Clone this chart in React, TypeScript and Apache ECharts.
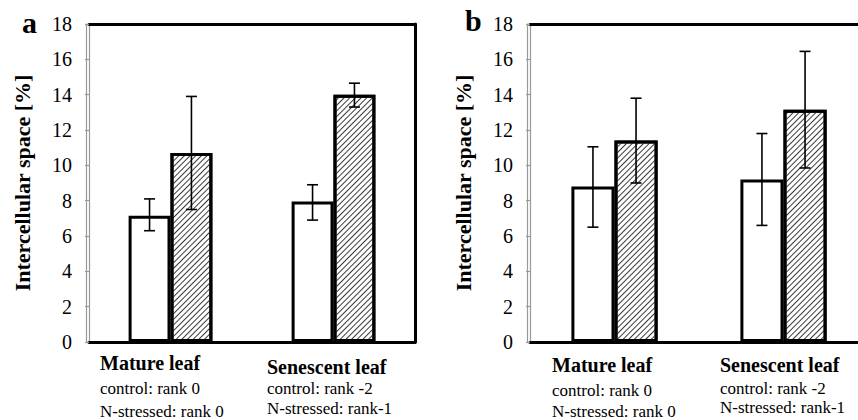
import React, { useEffect, useRef } from "react";
import * as echarts from "echarts";

const categories = ["Mature leaf", "Senescent leaf"];
const controlRanks = ["control: rank 0", "control: rank -2"];
const stressedRanks = ["N-stressed: rank 0", "N-stressed: rank-1"];
const yTicks = [0, 2, 4, 6, 8, 10, 12, 14, 16, 18];

// Panel a
const aControl = [7.15, 7.95];
const aControlErr = [[6.3, 8.1], [6.9, 8.9]];
const aStressed = [10.7, 14.0];
const aStressedErr = [[7.5, 13.9], [13.3, 14.65]];

// Panel b
const bControl = [8.8, 9.2];
const bControlErr = [[6.5, 11.05], [6.6, 11.8]];
const bStressed = [11.4, 13.15];
const bStressedErr = [[9.0, 13.8], [9.85, 16.45]];

const SERIF = "'Liberation Serif', 'Times New Roman', serif";

export default function App() {
  const ref = useRef<HTMLDivElement>(null);
  useEffect(() => {
    if (!ref.current) return;
    const chart = echarts.init(ref.current, null, { renderer: "svg" });
    const barFrac = [0.257, 0.255];

    const errData = (ctrl: number[][], str: number[][]) => {
      const out: number[][] = [];
      ctrl.forEach((e, i) => out.push([i, e[0], e[1], -1]));
      str.forEach((e, i) => out.push([i, e[0], e[1], 1]));
      return out;
    };

    const makeRender = (frac: number) => (params: any, api: any) => {
      const band = api.size([1, 0])[0];
      const side = api.value(3);
      const c = api.coord([api.value(0), api.value(1)]);
      const h = api.coord([api.value(0), api.value(2)]);
      const x = c[0] + (side * band * frac) / 2;
      const yl = c[1];
      const yh = h[1];
      const cap = 5.5;
      const st = { stroke: "#000", lineWidth: 1.6 };
      return {
        type: "group",
        children: [
          { type: "line", shape: { x1: x, y1: yl, x2: x, y2: yh }, style: st },
          { type: "line", shape: { x1: x - cap, y1: yl, x2: x + cap, y2: yl }, style: st },
          { type: "line", shape: { x1: x - cap, y1: yh, x2: x + cap, y2: yh }, style: st },
        ],
      };
    };

    const yMain = (gridIndex: number) => ({
      type: "value",
      gridIndex,
      min: yTicks[0],
      max: yTicks[yTicks.length - 1],
      interval: 2,
      position: "left",
      name: "Intercellular space [%]",
      nameLocation: "middle",
      nameRotate: 90,
      nameGap: 56,
      nameTextStyle: { fontFamily: SERIF, fontWeight: "bold", fontSize: 22, color: "#000" },
      axisLine: { show: true, lineStyle: { color: "#999", width: 1.2 } },
      axisTick: { show: true, length: 4, lineStyle: { color: "#999", width: 1.2 } },
      axisLabel: { fontFamily: SERIF, fontSize: 20, color: "#000", margin: 17 },
      splitLine: { show: false },
    });
    const yExtra = (gridIndex: number, position: string, offset: number, color: string, width: number) => ({
      type: "value",
      gridIndex,
      min: 0,
      max: 18,
      interval: 2,
      position,
      offset,
      axisLine: { show: true, onZero: false, lineStyle: { color, width } },
      axisTick: { show: false },
      axisLabel: { show: false },
      splitLine: { show: false },
    });
    const xAx = (gridIndex: number, position: string) => ({
      type: "category",
      gridIndex,
      data: categories,
      position,
      axisLine: { show: true, onZero: false, lineStyle: { color: "#000", width: 3 } },
      axisTick: { show: false },
      axisLabel: { show: false },
      splitLine: { show: false },
    });

    const decal = {
      symbol: "rect",
      symbolSize: 1,
      color: "#3a3a3a",
      dashArrayX: [1, 0],
      dashArrayY: [1, 2.2],
      rotation: -Math.PI / 4,
    };

    const barStyle = { color: "#fff", borderColor: "#000", borderWidth: 3 };

    const labelTexts: any[] = [];
    const labelPos = [
      // [x, yTitle, yCtrl, yStr]
      [[100, 363, 388, 411], [267, 367, 388, 408]],
      [[552, 365, 390, 411], [720, 365, 388, 407]],
    ];
    labelPos.forEach((panel) => {
      panel.forEach((p, i) => {
        labelTexts.push({
          type: "text", x: p[0], y: p[1],
          style: { text: categories[i], fontFamily: SERIF, fontWeight: "bold", fontSize: 20, fill: "#000", verticalAlign: "middle", align: "left" },
        });
        labelTexts.push({
          type: "text", x: p[0], y: p[2],
          style: { text: controlRanks[i], fontFamily: SERIF, fontSize: 17, fill: "#000", verticalAlign: "middle", align: "left" },
        });
        labelTexts.push({
          type: "text", x: p[0], y: p[3],
          style: { text: stressedRanks[i], fontFamily: SERIF, fontSize: 17, fill: "#000", verticalAlign: "middle", align: "left" },
        });
      });
    });

    chart.setOption({
      animation: false,
      backgroundColor: "#fff",
      grid: [
        { left: 89, width: 326, top: 24, height: 318, outerBoundsMode: "none", containLabel: false },
        { left: 530, width: 338, top: 24, height: 318, outerBoundsMode: "none", containLabel: false },
      ],
      xAxis: [xAx(0, "bottom"), xAx(0, "top"), xAx(1, "bottom"), xAx(1, "top")],
      yAxis: [
        yMain(0),
        yExtra(0, "left", 3, "#999", 1.2),
        yExtra(0, "right", 0, "#000", 3),
        yMain(1),
        yExtra(1, "left", 3, "#999", 1.2),
        yExtra(1, "right", 0, "#000", 3),
      ],
      series: [
        { type: "bar", name: "control a", xAxisIndex: 0, yAxisIndex: 0, data: aControl, barWidth: `${barFrac[0] * 100}%`, barGap: "0%", itemStyle: barStyle },
        { type: "bar", name: "N-stressed a", xAxisIndex: 0, yAxisIndex: 0, data: aStressed, barWidth: `${barFrac[0] * 100}%`, barGap: "0%", itemStyle: { ...barStyle, decal } },
        { type: "custom", xAxisIndex: 0, yAxisIndex: 0, data: errData(aControlErr, aStressedErr), renderItem: makeRender(barFrac[0]), z: 5 },
        { type: "bar", name: "control b", xAxisIndex: 2, yAxisIndex: 3, data: bControl, barWidth: `${barFrac[1] * 100}%`, barGap: "0%", itemStyle: barStyle },
        { type: "bar", name: "N-stressed b", xAxisIndex: 2, yAxisIndex: 3, data: bStressed, barWidth: `${barFrac[1] * 100}%`, barGap: "0%", itemStyle: { ...barStyle, decal } },
        { type: "custom", xAxisIndex: 2, yAxisIndex: 3, data: errData(bControlErr, bStressedErr), renderItem: makeRender(barFrac[1]), z: 5 },
      ],
      graphic: [
        { type: "text", x: 22, y: 22, style: { text: "a", fontFamily: SERIF, fontWeight: "bold", fontSize: 30, fill: "#000", verticalAlign: "middle" } },
        { type: "text", x: 465, y: 20, style: { text: "b", fontFamily: SERIF, fontWeight: "bold", fontSize: 30, fill: "#000", verticalAlign: "middle" } },
        ...labelTexts,
      ],
    });
    return () => chart.dispose();
  }, []);
  return <div ref={ref} style={{ width: 858, height: 420, position: "absolute", left: 0, top: 0 }} />;
}
